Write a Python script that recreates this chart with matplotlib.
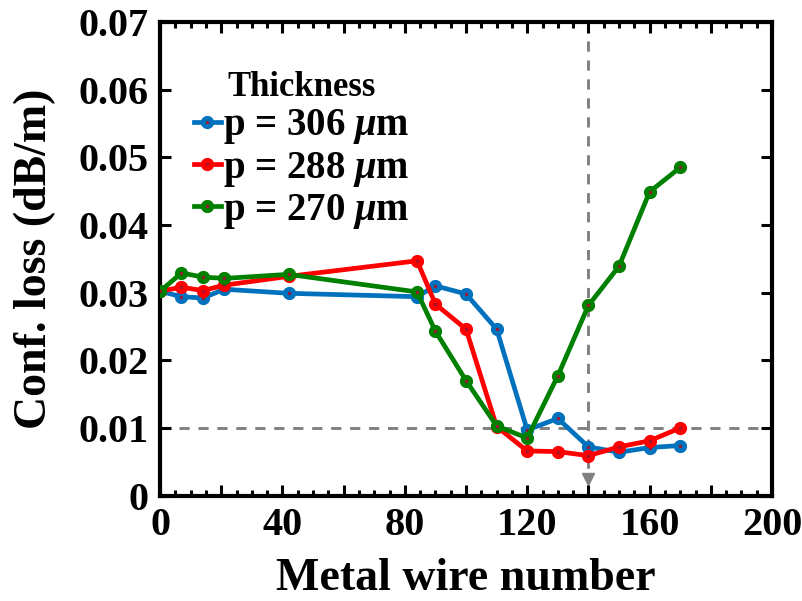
import matplotlib
matplotlib.use("Agg")
import matplotlib.pyplot as plt
from matplotlib.ticker import MultipleLocator

plt.rcParams['font.family'] = ['Liberation Serif', 'DejaVu Serif']
plt.rcParams['font.weight'] = 'bold'
plt.rcParams['axes.labelweight'] = 'bold'
plt.rcParams['mathtext.fontset'] = 'custom'
plt.rcParams['mathtext.it'] = 'Liberation Serif:italic:bold'
plt.rcParams['mathtext.rm'] = 'Liberation Serif:bold'

# metal wire number
wires = [0, 7, 14, 21, 42, 84, 90, 100, 110, 120, 130, 140, 150, 160, 170]

# confinement loss (dB/m) per thickness
loss_306 = [0.0302, 0.0294, 0.0292, 0.0305, 0.0299, 0.0294, 0.0310, 0.0298,
            0.0246, 0.0097, 0.0114, 0.0072, 0.0064, 0.0071, 0.0074]
loss_288 = [0.0302, 0.0308, 0.0303, 0.0311, 0.0324, 0.0347, 0.0283, 0.0246,
            0.0102, 0.0066, 0.0065, 0.0059, 0.0072, 0.0081, 0.0100]
loss_270 = [0.0302, 0.0329, 0.0323, 0.0321, 0.0327, 0.0301, 0.0243, 0.0170,
            0.0103, 0.0085, 0.0177, 0.0281, 0.0339, 0.0449, 0.0485]

labels = [r'p = 306 $\mu$m', r'p = 288 $\mu$m', r'p = 270 $\mu$m']
colors = ['#0072BD', '#FF0000', '#008000']

threshold = 0.01
chosen_wire = 140

fig = plt.figure(figsize=(8.03, 6.01), dpi=100)
ax = fig.add_axes([0.1993, 0.1754, 0.7621, 0.788])

# reference lines
ax.axhline(threshold, color='#808080', lw=2.1, ls=(0, (3.5, 3)), zorder=1)
ax.plot([chosen_wire, chosen_wire], [0.07, 0.0035], color='#808080', lw=2.1,
        ls=(0, (3.5, 3)), zorder=1)
ax.plot([chosen_wire], [0.0024], marker='v', color='#808080', ms=9, zorder=1)

for ys, lab, c in zip([loss_306, loss_288, loss_270], labels, colors):
    ax.plot(wires, ys, color=c, lw=3.4, marker='o', ms=6, mew=3.5,
            mec=c, mfc='#A2142F', label=lab, zorder=3)

ax.set_xlim(0, 200)
ax.set_ylim(0, 0.07)
ax.xaxis.set_minor_locator(MultipleLocator(5))
ax.set_xticks(range(0, 201, 20))
ax.set_xticklabels([str(v) if v % 40 == 0 else '' for v in range(0, 201, 20)])
yt = [0, 0.01, 0.02, 0.03, 0.04, 0.05, 0.06, 0.07]
ax.set_yticks(yt)
ax.set_yticklabels(['0'] + ['%.2f' % v for v in yt[1:]])

ax.tick_params(which='both', direction='in', top=True, right=True,
               labelsize=29, width=2.2, pad=8)
ax.tick_params(which='major', length=8)
ax.tick_params(which='minor', length=4.5)
for s in ax.spines.values():
    s.set_linewidth(3)

ax.set_xlabel('Metal wire number', fontsize=33, labelpad=10)
ax.set_ylabel('Conf. loss (dB/m)', fontsize=33, labelpad=16)

leg = ax.legend(loc='upper left', bbox_to_anchor=(0.017, 0.945), frameon=False,
                title='Thickness', fontsize=28, title_fontsize=25,
                handlelength=0.7, handletextpad=0.05, labelspacing=0.08,
                borderpad=0.1)
leg.get_title().set_fontweight('bold')

fig.savefig('out.png', dpi=100)
